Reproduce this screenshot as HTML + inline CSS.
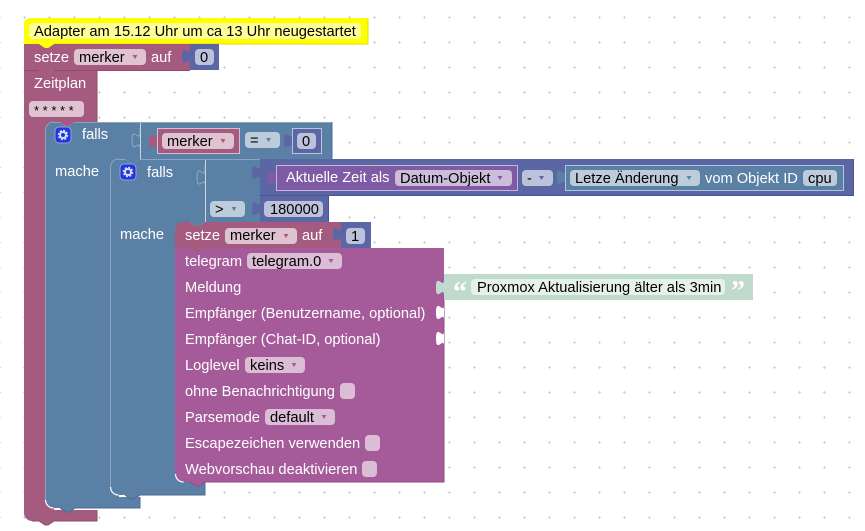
<!DOCTYPE html>
<html><head><meta charset="utf-8">
<style>
html,body{margin:0;padding:0;background:#fff;width:865px;height:531px;overflow:hidden}
svg{display:block}
text{font-family:"Liberation Sans",sans-serif;font-size:14.67px;fill:#fff}
.d{fill:#000}
</style></head><body>
<svg width="865" height="531" viewBox="0 0 865 531" xmlns="http://www.w3.org/2000/svg">
<defs>
<pattern id="g" width="25" height="25" patternUnits="userSpaceOnUse" x="-0.5" y="17.5">
<path d="M0,-1.5V1.5M-1.5,0H1.5M25,-1.5V1.5M23.5,0H26.5M0,23.5V26.5M-1.5,25H1.5M25,23.5V26.5M23.5,25H26.5" stroke="#d6d6d6" stroke-width="1" fill="none"/>
</pattern>
</defs>
<rect width="865" height="531" fill="url(#g)"/>

<!-- Zeitplan -->
<path d="M24,70H39l6,4h3l6,-4H97V122H45V510H97V521H54l-6,4h-3l-6,-4H32a8,8 0 0 1 -8,-8Z" fill="#a55b80"/>
<path d="M97,70V122M97,510V521H54l-6,4h-3l-6,-4H32" fill="none" stroke="#8f4a6e" stroke-width="1"/>
<rect x="45" y="122" width="9" height="9" fill="#a55b80"/>
<rect x="45" y="499" width="9" height="11" fill="#a55b80"/>
<!-- falls 1 -->
<path d="M53,122H60l6,4h3l6,-4H332V159H110V497H140V508H75l-6,4h-3l-6,-4H53a8,8 0 0 1 -8,-8V130a8,8 0 0 1 8,-8Z" fill="#5b80a5"/>
<path d="M53,122.500H60M75,122.500H332M45.500,500V130a8,8 0 0 1 8,-8" fill="none" stroke="#8aa5c0" stroke-width="1"/>
<path d="M332,122V159M140,497V508H75l-6,4h-3l-6,-4" fill="none" stroke="#4a6c90" stroke-width="1"/>
<path d="M45.500,500a8,8 0 0 0 8,8" fill="none" stroke="#fff" stroke-width="1.200"/>
<path d="M140.500,123V159" stroke="#c8d6e4" stroke-width="1"/>
<path d="M140,128v5c0,10 -8,-8 -8,7.500s8,-2.500 8,7.500" fill="#5b80a5" stroke="#a9bdd2" stroke-width="0.700"/>
<rect x="110" y="159" width="9" height="9" fill="#5b80a5"/>
<rect x="110" y="486" width="9" height="11" fill="#5b80a5"/>
<!-- falls 2 -->
<path d="M118,159H125l6,4h3l6,-4H260V222H175V482H205V495H140l-6,4h-3l-6,-4H118a8,8 0 0 1 -8,-8V167a8,8 0 0 1 8,-8Z" fill="#5b80a5"/>
<rect x="175" y="222" width="9" height="9" fill="#5b80a5"/>
<rect x="175" y="473" width="9" height="9" fill="#5b80a5"/>
<path d="M118,159.500H125M140,159.500H260M110.500,487V167a8,8 0 0 1 8,-8" fill="none" stroke="#8aa5c0" stroke-width="1"/>
<path d="M205,482V495H140l-6,4h-3l-6,-4" fill="none" stroke="#4a6c90" stroke-width="1"/>
<path d="M110.500,487a8,8 0 0 0 8,8" fill="none" stroke="#fff" stroke-width="1.200"/>
<path d="M205.500,160V222" stroke="#c8d6e4" stroke-width="1"/>
<path d="M205,165v5c0,10 -8,-8 -8,7.500s8,-2.500 8,7.500" fill="#5b80a5" stroke="#a9bdd2" stroke-width="0.700"/>

<!-- Gear icons -->
<rect x="55" y="127" width="16" height="16" rx="4" fill="#2238d8" stroke="#8fa0e8" stroke-width="1"/>
<circle cx="63" cy="135" r="3" fill="none" stroke="#d5dcff" stroke-width="2"/>
<circle cx="63" cy="135" r="4.500" fill="none" stroke="#d5dcff" stroke-width="1.500" stroke-dasharray="2 1.530"/>
<rect x="120" y="164" width="16" height="16" rx="4" fill="#2238d8" stroke="#8fa0e8" stroke-width="1"/>
<circle cx="128" cy="172" r="3" fill="none" stroke="#d5dcff" stroke-width="2"/>
<circle cx="128" cy="172" r="4.500" fill="none" stroke="#d5dcff" stroke-width="1.500" stroke-dasharray="2 1.530"/>

<!-- Comment yellow -->
<path d="M30,18H368V44H54l-6,4h-3l-6,-4H24V24a6,6 0 0 1 6,-6Z" fill="#ffff00"/>
<path d="M368,18V44H54" fill="none" stroke="#e0e000" stroke-width="1"/>
<rect x="29" y="23" width="332" height="16" rx="4" fill="#ffff99"/>
<text class="d" x="34" y="36">Adapter am 15.12 Uhr um ca 13 Uhr neugestartet</text>

<!-- setze 1 -->
<path d="M24,44H39l6,4h3l6,-4H190V70H54l-6,4h-3l-6,-4H24Z" fill="#a55b80"/>
<path d="M39,44l6,4h3l6,-4Z" fill="#ffff00"/>
<path d="M39,70l6,4h3l6,-4Z" fill="#a55b80"/>
<path d="M24,70.500H39M54,70.500H190" stroke="#8f4a6e" stroke-width="1" fill="none"/>
<text x="34" y="62">setze</text>
<rect x="74" y="49" width="72" height="16" rx="4" fill="#dfc3d1"/>
<text class="d" x="79" y="62">merker</text>
<path d="M132.500,55h5l-2.500,4Z" fill="#a55b80"/>
<text x="151" y="62">auf</text>
<path d="M190,44H219V70H190V64c0,-10 -8,8 -8,-7.500s8,2.500 8,-7.500Z" fill="#5b67a5"/>
<rect x="195" y="49" width="19" height="16" rx="4" fill="#bdc2db"/>
<text class="d" x="200" y="62">0</text>

<!-- Zeitplan texts -->
<text x="34" y="88">Zeitplan</text>
<rect x="29" y="101" width="55" height="16" rx="4" fill="#dfc3d1"/>
<text class="d" x="34" y="115" style="font-size:13px">* * * * *</text>
<path d="M60,122l6,4h3l6,-4Z" fill="#a55b80"/>

<!-- falls 1 texts -->
<text x="82" y="139">falls</text>
<text x="55" y="176">mache</text>
<path d="M157,128H240V154H157V148.500c0,-10 -8,8 -8,-7.500s8,2.500 8,-7.500Z" fill="#a55b80"/>
<rect x="157.500" y="128.500" width="82" height="25" fill="none" stroke="#e8d8e0" stroke-width="0.800"/>
<rect x="162" y="133" width="72" height="16" rx="4" fill="#dfc3d1"/>
<text class="d" x="167" y="146">merker</text>
<path d="M220.500,139h5l-2.500,4Z" fill="#a55b80"/>
<rect x="245" y="132" width="35" height="16" rx="4" fill="#bdccdb"/>
<text class="d" x="250" y="145">=</text>
<path d="M266,138h5l-2.500,4Z" fill="#5b80a5"/>
<path d="M292,128H322V154H292V148.500c0,-10 -8,8 -8,-7.500s8,2.500 8,-7.500Z" fill="#5b67a5"/>
<rect x="292.500" y="128.500" width="29" height="25" fill="none" stroke="#d8dcec" stroke-width="0.800"/>
<rect x="297" y="133" width="19" height="16" rx="4" fill="#bdc2db"/>
<text class="d" x="302" y="146">0</text>

<!-- falls 2 texts -->
<path d="M125,159l6,4h3l6,-4Z" fill="#5b80a5"/>
<text x="147" y="177">falls</text>
<text x="120" y="239">mache</text>

<!-- Math block (minus) -->
<path d="M260,159H854V196H260V180c0,-10 -8,8 -8,-7.500s8,2.500 8,-7.500Z" fill="#5b67a5"/>
<path d="M853.500,159V195.500H260" fill="none" stroke="#4a558f" stroke-width="1"/>
<!-- date block -->
<path d="M276,165H518V191H276V185c0,-10 -8,8 -8,-7.500s8,2.500 8,-7.500Z" fill="#805ba5"/>
<rect x="276.500" y="165.500" width="241" height="25" fill="none" stroke="#d8cce4" stroke-width="0.800"/>
<text x="286" y="182">Aktuelle Zeit als</text>
<rect x="395" y="170" width="117" height="16" rx="4" fill="#ccbddb"/>
<text class="d" x="400" y="183">Datum-Objekt</text>
<path d="M497.500,176h5l-2.500,4Z" fill="#805ba5"/>
<rect x="522" y="170" width="31" height="16" rx="4" fill="#bdc2db"/>
<text class="d" x="527" y="183">-</text>
<path d="M539,176h5l-2.500,4Z" fill="#5b67a5"/>
<!-- Letzte -->
<path d="M565,165H844V191H565V185c0,-10 -8,8 -8,-7.500s8,2.500 8,-7.500Z" fill="#5b80a5"/>
<rect x="565.500" y="165.500" width="278" height="25" fill="none" stroke="#c8d6e4" stroke-width="0.800"/>
<rect x="570" y="170" width="130" height="16" rx="4" fill="#bdccdb"/>
<text class="d" x="575" y="183">Letze Änderung</text>
<path d="M686.500,176h5l-2.500,4Z" fill="#5b80a5"/>
<text x="705" y="183">vom Objekt ID</text>
<rect x="803" y="170" width="34" height="16" rx="4" fill="#bdccdb"/>
<text class="d" x="808" y="183">cpu</text>

<!-- > and 180000 -->
<rect x="210" y="201" width="35" height="16" rx="4" fill="#bdccdb"/>
<text class="d" x="215" y="214">&gt;</text>
<path d="M231.500,207h5l-2.500,4Z" fill="#5b80a5"/>
<path d="M260,196H329V222H260V216c0,-10 -8,8 -8,-7.500s8,2.500 8,-7.500Z" fill="#5b67a5"/>
<path d="M328.500,196V222" stroke="#4a558f" stroke-width="1"/>
<rect x="264" y="201" width="59" height="16" rx="4" fill="#bdc2db"/>
<text class="d" x="270" y="214">180000</text>

<!-- telegram -->
<path d="M175,248H444V280c0,10 -8,-8 -8,7.500s8,-2.500 8,7.500V482H205l-6,4h-3l-6,-4H183a8,8 0 0 1 -8,-8Z" fill="#a55b99"/>
<path d="M175.500,474a8,8 0 0 0 8,8" fill="none" stroke="#fff" stroke-width="1.200"/>
<path d="M444,295V482H205l-6,4h-3l-6,-4" fill="none" stroke="#8f4a85" stroke-width="1"/>
<path d="M444,305c0,10 -8,-8 -8,7.500s8,-2.500 8,7.500Z" fill="#fff"/>
<path d="M444,331c0,10 -8,-8 -8,7.500s8,-2.500 8,7.500Z" fill="#fff"/>
<text x="185" y="266">telegram</text>
<rect x="247" y="253" width="95" height="16" rx="4" fill="#dbbdd6"/>
<text class="d" x="252" y="266">telegram.0</text>
<path d="M328.500,259h5l-2.500,4Z" fill="#a55b99"/>
<text x="185" y="292">Meldung</text>
<text x="185" y="318">Empfänger (Benutzername, optional)</text>
<text x="185" y="344">Empfänger (Chat-ID, optional)</text>
<text x="185" y="370">Loglevel</text>
<rect x="245" y="357" width="60" height="16" rx="4" fill="#dbbdd6"/>
<text class="d" x="250" y="370">keins</text>
<path d="M291.500,363h5l-2.500,4Z" fill="#a55b99"/>
<text x="185" y="396">ohne Benachrichtigung</text>
<rect x="340" y="383" width="15" height="16" rx="4" fill="#dbbdd6"/>
<text x="185" y="422">Parsemode</text>
<rect x="265" y="409" width="70" height="16" rx="4" fill="#dbbdd6"/>
<text class="d" x="270" y="422">default</text>
<path d="M321.500,415h5l-2.500,4Z" fill="#a55b99"/>
<text x="185" y="448">Escapezeichen verwenden</text>
<rect x="365" y="435" width="15" height="16" rx="4" fill="#dbbdd6"/>
<text x="185" y="474">Webvorschau deaktivieren</text>
<rect x="362" y="461" width="15" height="16" rx="4" fill="#dbbdd6"/>

<!-- setze 2 -->
<path d="M183,222H190l6,4h3l6,-4H341V248H205l-6,4h-3l-6,-4H175V230a8,8 0 0 1 8,-8Z" fill="#a55b80"/>
<path d="M190,222l6,4h3l6,-4Z" fill="#5b80a5"/>
<path d="M190,248l6,4h3l6,-4Z" fill="#a55b80"/>
<text x="185" y="240">setze</text>
<rect x="225" y="228" width="72" height="16" rx="4" fill="#dfc3d1"/>
<text class="d" x="230" y="240">merker</text>
<path d="M283.500,234h5l-2.500,4Z" fill="#a55b80"/>
<text x="302" y="240">auf</text>
<path d="M341,222H371V248H341V242c0,-10 -8,8 -8,-7.500s8,2.500 8,-7.500Z" fill="#5b67a5"/>
<rect x="346" y="228" width="19" height="16" rx="4" fill="#bdc2db"/>
<text class="d" x="351" y="241">1</text>

<!-- text block -->
<path d="M444,274H753V300H444V295c0,-10 -8,8 -8,-7.500s8,2.500 8,-7.500Z" fill="#c0dbce"/>
<text x="453" y="301" style="font-family:'Liberation Serif',serif;font-size:28px;font-weight:bold">“</text>
<rect x="471" y="279" width="254" height="16" rx="4" fill="#e6f1ec"/>
<text class="d" x="477" y="292">Proxmox Aktualisierung älter als 3min</text>
<text x="731" y="300" style="font-family:'Liberation Serif',serif;font-size:28px;font-weight:bold">”</text>
</svg>
</body></html>
